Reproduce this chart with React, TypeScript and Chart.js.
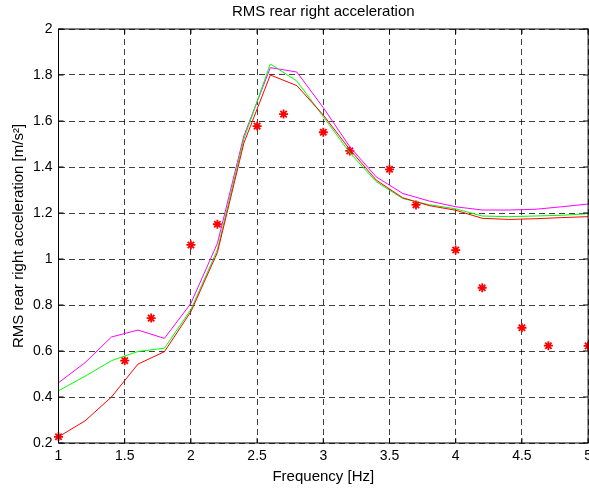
import React, { useEffect, useRef } from "react";
import { Chart, registerables } from "chart.js";

Chart.register(...registerables);

const titleText = "RMS rear right acceleration";
const xAxisTitle = "Frequency [Hz]";
const yAxisTitle = "RMS rear right acceleration [m/s\u00B2]";

const xTickLabels = ["1", "1.5", "2", "2.5", "3", "3.5", "4", "4.5", "5"];
const yTickLabels = ["0.2", "0.4", "0.6", "0.8", "1", "1.2", "1.4", "1.6", "1.8", "2"];

const freq = [1.0, 1.2, 1.4, 1.6, 1.8, 2.0, 2.2, 2.4, 2.6, 2.8, 3.0, 3.2, 3.4, 3.6, 3.8, 4.0, 4.2, 4.4, 4.6, 4.8, 5.0];
const redLine = [0.227, 0.296, 0.4, 0.543, 0.597, 0.771, 1.028, 1.504, 1.8, 1.754, 1.626, 1.476, 1.343, 1.266, 1.232, 1.212, 1.177, 1.172, 1.175, 1.18, 1.184];
const greenLine = [0.427, 0.49, 0.558, 0.598, 0.612, 0.78, 1.04, 1.522, 1.848, 1.774, 1.619, 1.462, 1.336, 1.263, 1.236, 1.218, 1.187, 1.184, 1.187, 1.19, 1.197];
const magentaLine = [0.462, 0.549, 0.661, 0.691, 0.655, 0.807, 1.068, 1.535, 1.832, 1.813, 1.658, 1.488, 1.357, 1.285, 1.252, 1.227, 1.213, 1.213, 1.216, 1.227, 1.239];

const measFreq = [1.0, 1.5, 1.7, 2.0, 2.2, 2.5, 2.7, 3.0, 3.2, 3.5, 3.7, 4.0, 4.2, 4.5, 4.7, 5.0];
const measValues = [0.227, 0.558, 0.743, 1.061, 1.151, 1.578, 1.63, 1.551, 1.47, 1.39, 1.235, 1.039, 0.875, 0.701, 0.623, 0.622];

const FONT = "'Liberation Sans', Arial, Helvetica, sans-serif";

const framePlugin = {
  id: "frame",
  afterDatasetsDraw(chart: any) {
    const { ctx, chartArea, scales } = chart;
    const { left, right, top, bottom } = chartArea;
    ctx.save();
    ctx.strokeStyle = "#000";
    ctx.lineWidth = 1;
    ctx.setLineDash([]);
    ctx.strokeRect(left, top, right - left, bottom - top);
    const tl = 5;
    ctx.beginPath();
    scales.x.ticks.forEach((t: any) => {
      const px = scales.x.getPixelForValue(t.value);
      ctx.moveTo(px, bottom);
      ctx.lineTo(px, bottom - tl);
      ctx.moveTo(px, top);
      ctx.lineTo(px, top + tl);
    });
    scales.y.ticks.forEach((t: any) => {
      const py = scales.y.getPixelForValue(t.value);
      ctx.moveTo(left, py);
      ctx.lineTo(left + tl, py);
      ctx.moveTo(right, py);
      ctx.lineTo(right - tl, py);
    });
    ctx.stroke();
    ctx.restore();
  },
  afterDraw(chart: any) {
    const { ctx, chartArea } = chart;
    ctx.save();
    ctx.fillStyle = "#000";
    ctx.font = `15px ${FONT}`;
    ctx.textAlign = "center";
    ctx.textBaseline = "middle";
    ctx.fillText(titleText, (chartArea.left + chartArea.right) / 2, 12);
    ctx.restore();
  },
};

export default function App() {
  const ref = useRef<HTMLCanvasElement>(null);
  useEffect(() => {
    document.body.style.margin = "0";
    document.body.style.overflow = "hidden";
    const canvas = ref.current!;
    const chart = new Chart(canvas, {
      type: "line",
      data: {
        datasets: [
          {
            label: "red",
            data: freq.map((x, i) => ({ x, y: redLine[i] })),
            borderColor: "#ff0000",
            borderWidth: 1,
            pointRadius: 0,
            fill: false,
          },
          {
            label: "green",
            data: freq.map((x, i) => ({ x, y: greenLine[i] })),
            borderColor: "#00ff00",
            borderWidth: 1,
            pointRadius: 0,
            fill: false,
          },
          {
            label: "magenta",
            data: freq.map((x, i) => ({ x, y: magentaLine[i] })),
            borderColor: "#ff00ff",
            borderWidth: 1,
            pointRadius: 0,
            fill: false,
          },
          {
            label: "measured",
            data: measFreq.map((x, i) => ({ x, y: measValues[i] })),
            showLine: false,
            pointStyle: "star",
            pointRadius: 4.5,
            pointBorderWidth: 1.8,
            pointBorderColor: "#ff0000",
            pointBackgroundColor: "#ff0000",
            borderColor: "#ff0000",
            clip: false,
          } as any,
        ],
      },
      options: {
        animation: false,
        responsive: false,
        maintainAspectRatio: false,
        layout: { padding: { top: 29, right: 1.5, left: 0, bottom: 0 } },
        plugins: {
          legend: { display: false },
          tooltip: { enabled: false },
          title: { display: false },
        },
        scales: {
          x: {
            type: "linear",
            min: 1,
            max: 5,
            afterFit: (s: any) => {
              s.height = 48;
            },
            afterBuildTicks: (s: any) => {
              s.ticks = xTickLabels.map((l) => ({ value: parseFloat(l) }));
            },
            ticks: {
              autoSkip: false,
              maxRotation: 0,
              padding: 5,
              color: "#000",
              font: { family: FONT, size: 14 },
              callback: (v: any) => {
                const found = xTickLabels.find((l) => Math.abs(parseFloat(l) - v) < 1e-6);
                return found ?? "";
              },
            },
            grid: {
              color: "rgba(0,0,0,0.75)",
              lineWidth: 1,
              drawTicks: false,
            },
            border: { display: false, dash: [6, 4] },
            title: {
              display: true,
              text: xAxisTitle,
              color: "#000",
              font: { family: FONT, size: 15 },
              padding: { top: 0, bottom: 5 },
            },
          },
          y: {
            type: "linear",
            min: 0.2,
            max: 2,
            afterFit: (s: any) => {
              s.width = 58.5;
            },
            afterBuildTicks: (s: any) => {
              s.ticks = yTickLabels.map((l) => ({ value: parseFloat(l) }));
            },
            ticks: {
              autoSkip: false,
              padding: 6,
              color: "#000",
              font: { family: FONT, size: 14 },
              callback: (v: any) => {
                const found = yTickLabels.find((l) => Math.abs(parseFloat(l) - v) < 1e-6);
                return found ?? "";
              },
            },
            grid: {
              color: "rgba(0,0,0,0.75)",
              lineWidth: 1,
              drawTicks: false,
            },
            border: { display: false, dash: [6, 4] },
            title: {
              display: true,
              text: yAxisTitle,
              color: "#000",
              font: { family: FONT, size: 15 },
              padding: { top: 10, bottom: 0 },
            },
          },
        },
      },
      plugins: [framePlugin],
    });
    return () => chart.destroy();
  }, []);
  return (
    <div
      style={{
        position: "absolute",
        left: 0,
        top: 0,
        width: 589,
        height: 491,
        overflow: "hidden",
      }}
    >
      <canvas ref={ref} width={597} height={491} style={{ width: 597, height: 491, display: "block" }} />
    </div>
  );
}
